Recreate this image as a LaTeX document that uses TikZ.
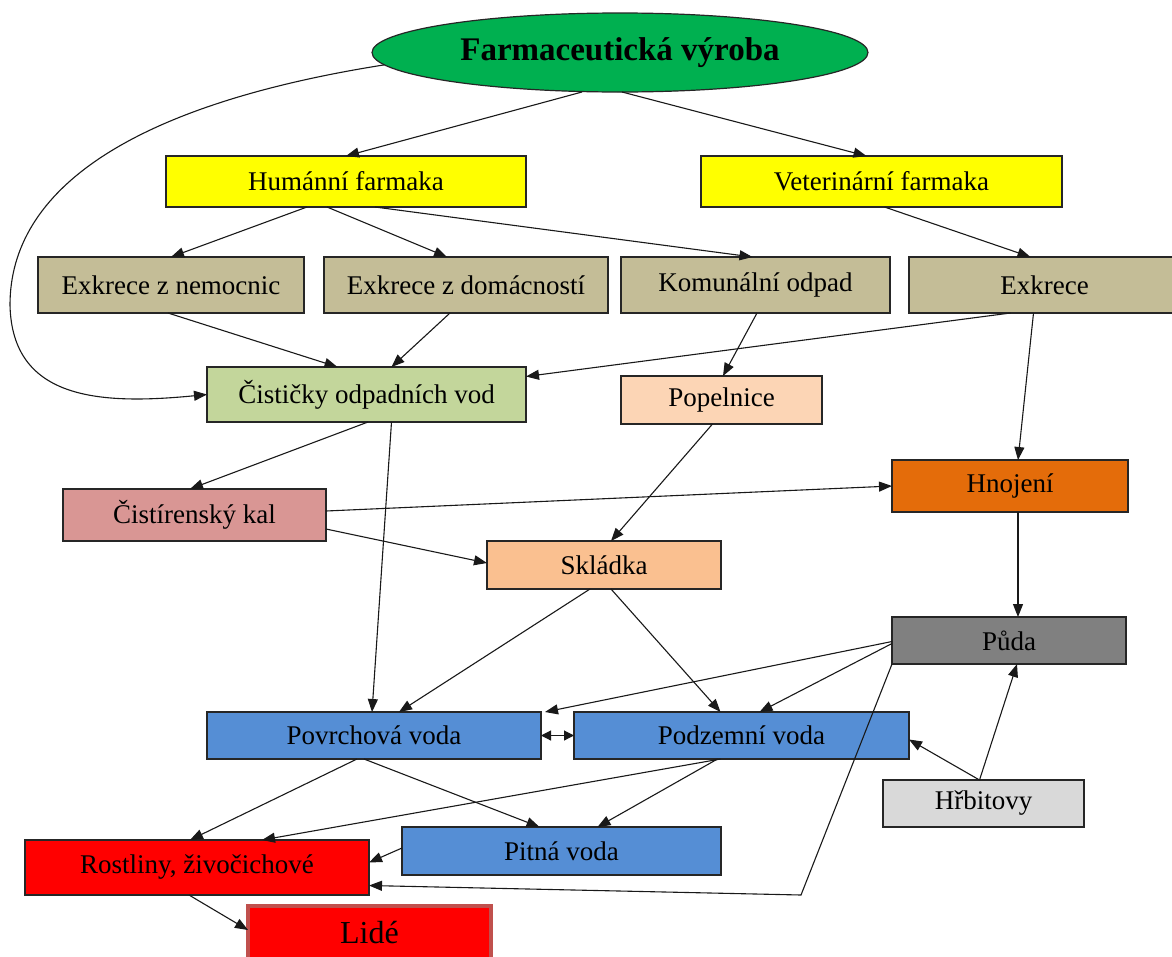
\documentclass[tikz,border=0pt]{standalone}
\usepackage{fontspec}
\setmainfont{Liberation Serif}
\usetikzlibrary{arrows.meta,shapes.geometric}
\definecolor{cGreen}{HTML}{00B050}
\definecolor{cYellow}{HTML}{FFFF00}
\definecolor{cTan}{HTML}{C4BD97}
\definecolor{cLGreen}{HTML}{C3D69B}
\definecolor{cPeach}{HTML}{FCD5B5}
\definecolor{cRose}{HTML}{D99694}
\definecolor{cOrange}{HTML}{E46C0A}
\definecolor{cSkl}{HTML}{FAC090}
\definecolor{cGray}{HTML}{808080}
\definecolor{cBlue}{HTML}{558ED5}
\definecolor{cLGray}{HTML}{D9D9D9}
\definecolor{cRed}{HTML}{FF0000}
\definecolor{cRedB}{HTML}{C0504D}
\newcommand\mainfs{\fontsize{27}{30}\selectfont}
\begin{document}
\begin{tikzpicture}[x=1pt,y=-1pt,
  box/.style={draw=black!85, line width=1.2pt, inner sep=0pt, outer sep=0pt, font=\mainfs, text=black},
  arr/.style={-{Triangle[length=13pt,width=10pt]}, line width=1.1pt, draw=black!90},
  dblarr/.style={{Triangle[length=10pt,width=10pt]}-{Triangle[length=10pt,width=10pt]}, line width=1.1pt, draw=black!90}]
\useasboundingbox (0,0) rectangle (1172,956);
\fill[white] (0,0) rectangle (1172,956);

\node[ellipse, draw=black!85, line width=1.2pt, fill=cGreen, minimum width=496pt, minimum height=79pt, inner sep=0pt, outer sep=0pt, font=\fontsize{33}{36}\selectfont\bfseries] (ell) at (620,52.5) {Farmaceutická výroba};

\node[box, fill=cYellow, minimum width=360pt, minimum height=51pt] (humani) at (346,181.5) {Humánní farmaka};
\node[box, fill=cYellow, minimum width=361pt, minimum height=51pt] (veter) at (881.5,181.5) {Veterinární farmaka};

\node[box, fill=cTan, minimum width=266pt, minimum height=56pt] (nemoc) at (171,285) {Exkrece z nemocnic};
\node[box, fill=cTan, minimum width=284pt, minimum height=56pt] (domac) at (466,285) {Exkrece z domácností};
\node[box, fill=cTan, minimum width=269pt, minimum height=56pt] (komun) at (755.5,285) {Komunální odpad};
\node[box, fill=cTan, minimum width=271pt, minimum height=56pt] (exkr) at (1044.5,285) {Exkrece};

\node[box, fill=cLGreen, minimum width=319pt, minimum height=55pt] (cist) at (366.5,394.5) {Čističky odpadních vod};
\node[box, fill=cPeach, minimum width=201pt, minimum height=48pt] (popel) at (721.5,400) {Popelnice};
\node[box, fill=cRose, minimum width=263pt, minimum height=52pt] (kal) at (194.5,515) {Čistírenský kal};
\node[box, fill=cOrange, minimum width=236pt, minimum height=52pt] (hnoj) at (1010,486) {Hnojení};
\node[box, fill=cSkl, minimum width=234pt, minimum height=48pt] (sklad) at (604,565) {Skládka};
\node[box, fill=cGray, minimum width=234pt, minimum height=47pt] (puda) at (1009,640.5) {Půda};
\node[box, fill=cBlue, minimum width=334pt, minimum height=47pt] (povrch) at (374,735.5) {Povrchová voda};
\node[box, fill=cBlue, minimum width=335pt, minimum height=47pt] (podzem) at (741.5,735.5) {Podzemní voda};
\node[box, fill=cLGray, minimum width=201pt, minimum height=47pt] (hrbit) at (983.5,803.5) {Hřbitovy};
\node[box, fill=cBlue, minimum width=319pt, minimum height=48pt] (pitna) at (561.5,851) {Pitná voda};
\node[box, fill=cRed, minimum width=344pt, minimum height=55pt] (rostl) at (197,867.5) {Rostliny, živočichové};
\node[box, draw=cRedB, line width=4pt, fill=cRed, minimum width=243pt, minimum height=54pt, font=\fontsize{32}{34}\selectfont] (lide) at (369.5,933) {Lidé};

\coordinate (bend) at (801,895);

% edges
\draw[arr] ([xshift=-38pt]ell.south) -- (humani.north);
\draw[arr] ([xshift=2pt]ell.south) -- ([xshift=-15pt]veter.north);
\draw[arr] (ell.183) .. controls (130,105) and (10,190) .. (10,305) .. controls (12,400) and (100,405) .. (cist.west);

\draw[arr] ([xshift=-39pt]humani.south) -- (nemoc.north);
\draw[arr] ([xshift=-19pt]humani.south) -- ([xshift=-19pt]domac.north);
\draw[arr] ([xshift=29pt]humani.south) -- ([xshift=-3pt]komun.north);
\draw[arr] ([xshift=3pt]veter.south) -- ([xshift=-14pt]exkr.north);

\draw[arr] ([xshift=-3pt]nemoc.south) -- ([xshift=-29pt]cist.north);
\draw[arr] ([xshift=-16pt]domac.south) -- ([xshift=25pt]cist.north);
\draw[arr] ([xshift=-34pt]exkr.south) -- ([yshift=18pt]cist.east);
\draw[arr] ([xshift=1.5pt]komun.south) -- ([xshift=1.5pt]popel.north);
\draw[arr] ([xshift=-11pt]exkr.south) -- ([xshift=8pt]hnoj.north);

\draw[arr] ([xshift=1.5pt]cist.south) -- ([xshift=-4.5pt]kal.north);
\draw[arr] ([xshift=25pt]cist.south) -- ([xshift=-2pt]povrch.north);
\draw[arr] ([xshift=-9pt]popel.south) -- ([xshift=7pt]sklad.north);

\draw[arr] ([yshift=4pt]kal.east) -- (hnoj.west);
\draw[arr] ([yshift=-14pt]kal.east) -- ([yshift=2pt]sklad.west);
\draw[arr] ([xshift=8pt]hnoj.south) -- ([xshift=9pt]puda.north);

\draw[arr] ([xshift=-14pt]sklad.south) -- ([xshift=25pt]povrch.north);
\draw[arr] ([xshift=7pt]sklad.south) -- ([xshift=-21pt]podzem.north);

\draw[arr] ([yshift=-1pt]puda.west) -- ([xshift=4pt]povrch.north east);
\draw[arr] ([yshift=-3pt]puda.west) -- ([xshift=18pt]podzem.north);
\draw[arr] (puda.south west) -- (bend) -- ([yshift=-18pt]rostl.east);

\draw[dblarr] (povrch.east) -- (podzem.west);

\draw[arr] ([xshift=-17pt]povrch.south) -- ([xshift=-7pt]rostl.north);
\draw[arr] ([xshift=-10pt]povrch.south) -- ([xshift=-22pt]pitna.north);
\draw[arr] ([xshift=-21pt]podzem.south) -- ([xshift=65pt]rostl.north);
\draw[arr] ([xshift=-24pt]podzem.south) -- ([xshift=36pt]pitna.north);
\draw[arr] ([yshift=3pt]pitna.west) -- ([yshift=5pt]rostl.east);

\draw[arr] ([xshift=-4pt]hrbit.north) -- ([yshift=-4pt]podzem.east);
\draw[arr] ([xshift=-4pt]hrbit.north) -- ([xshift=8pt]puda.south);

\draw[arr] ([xshift=-8pt]rostl.south) -- ([yshift=3pt]lide.west);
\end{tikzpicture}
\end{document}
